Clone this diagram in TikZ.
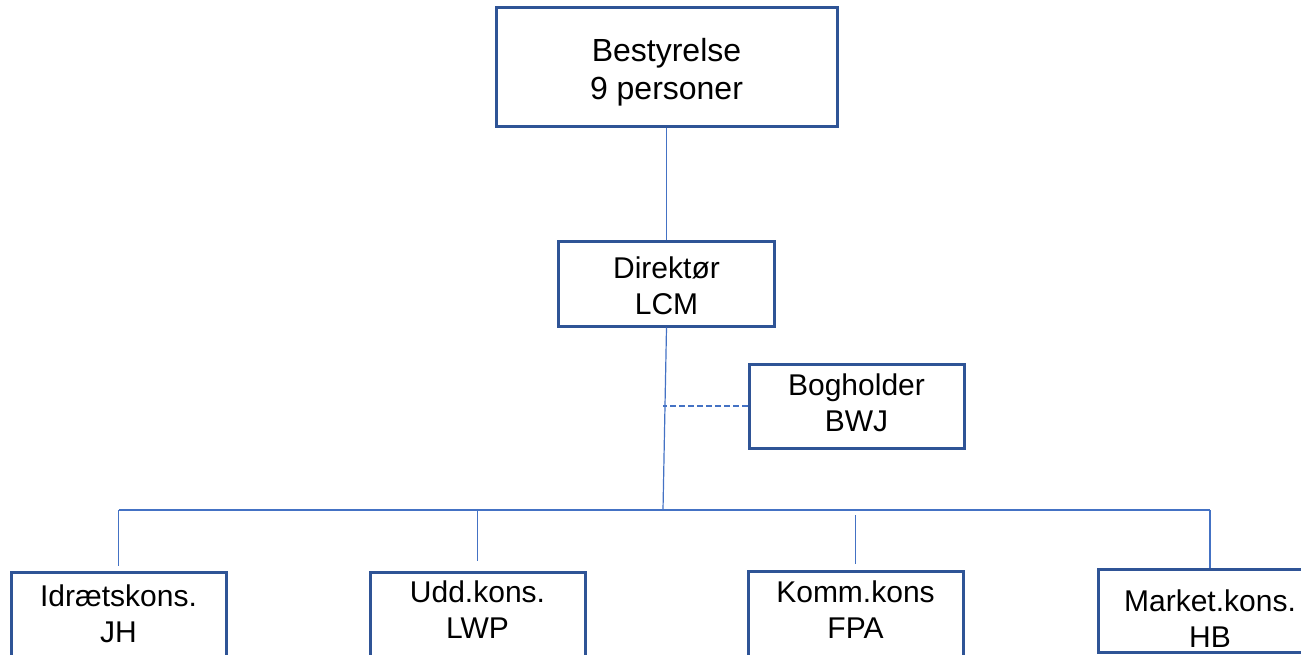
\documentclass[tikz,border=0pt]{standalone}
\usepackage{fontspec}
\setmainfont{Liberation Sans}
\usetikzlibrary{shapes,arrows,calc}
\definecolor{boxblue}{HTML}{2F5496}
\definecolor{linkblue}{HTML}{4472C4}
\tikzstyle{line} = [draw, linkblue, line width=1.2pt]
\tikzstyle{dashline} = [line, dash pattern=on 6pt off 3pt]
\tikzstyle{block} = [draw=boxblue, line width=3pt, rectangle, align=center, minimum width=215pt, minimum height=85pt, inner sep=0pt, font=\fontsize{30}{36}\selectfont]
\tikzstyle{topblock} = [block, minimum width=341pt, minimum height=119pt, font=\fontsize{32}{38}\selectfont]
\tikzset{textup/.style={execute at end node={\rule[-#1]{0pt}{0pt}}}}

\begin{document}
\begin{tikzpicture}[x=1pt, y=-1pt, node distance=217pt, auto]
        \useasboundingbox (0,0) rectangle (1301,654);
        \node[topblock] (board) at (666.5,66.5) {\rule{0pt}{35pt}Bestyrelse\\9 personer};
        \node[block, below of=board, minimum width=216pt] (dir) {\rule{0pt}{26pt}Direktør\\LCM};
        \node[block, minimum height=84pt, textup=6pt] (bog) at (856.5,406) {Bogholder\\BWJ};
        \node[block, textup=2pt] (idr) at (118.5,614.5) {Idrætskons.\\JH};
        \node[block, textup=10pt] (udd) at (477.5,614.5) {Udd.kons.\\LWP};
        \node[block, textup=8pt] (komm) at (855.5,614) {Komm.kons\\FPA};
        \node[block, minimum width=224pt, minimum height=83pt] (market) at (1210,610.5) {\rule{0pt}{37pt}Market.kons.\\HB};
        \coordinate (hub) at (663,510);
        \path[line] (board) -- (dir);
        \path[line] (dir.south) -- (hub);
        \path[dashline] (bog.west) -- (bog.west -| hub);
        \path[line] (idr.north |- hub) -- (market.north |- hub);
        \path[line, shorten >=5pt] (idr.north |- hub) -- (idr.north);
        \path[line, shorten >=10pt] (udd.north |- hub) -- (udd.north);
        \path[line, shorten <=5pt, shorten >=6pt] (komm.north |- hub) -- (komm.north);
        \path[line] (market.north |- hub) -- (market.north);
    \end{tikzpicture}
\end{document}
